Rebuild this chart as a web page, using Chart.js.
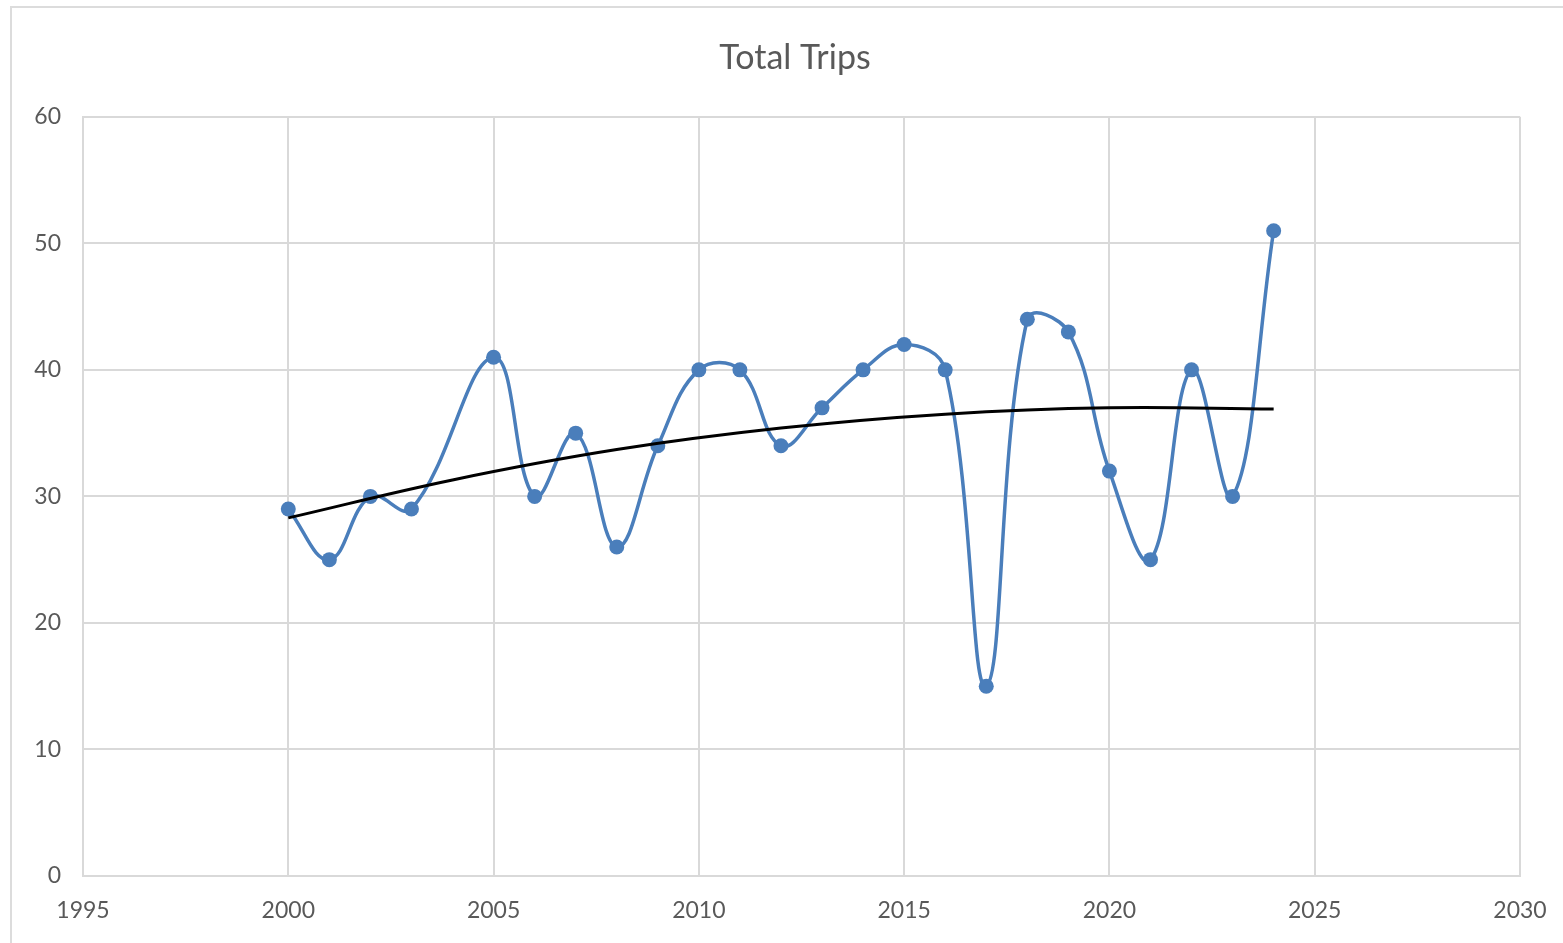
<!DOCTYPE html>
<html>
<head>
<meta charset="utf-8">
<script src="https://cdn.jsdelivr.net/npm/chart.js@4/dist/chart.umd.min.js"></script>
<style>
  html, body { margin: 0; padding: 0; background: #ffffff; }
  #wrap { position: absolute; left: 0; top: 0; width: 1563px; height: 943px; }
  #frame { position: absolute; left: 10px; top: 6px; width: 1560px; height: 940px; border-left: 2px solid #dcdcdc; border-top: 2px solid #dcdcdc; box-sizing: border-box; }
  canvas { position: absolute; left: 0; top: 0; }
</style>
</head>
<body>
<div id="wrap">
  <div id="frame"></div>
  <canvas id="c" width="1563" height="943"></canvas>
</div>
<script>
const years = [2000, 2001, 2002, 2003, 2005, 2006, 2007, 2008, 2009, 2010, 2011, 2012, 2013, 2014, 2015, 2016, 2017, 2018, 2019, 2020, 2021, 2022, 2023, 2024];
const trips = [29, 25, 30, 29, 41, 30, 35, 26, 34, 40, 40, 34, 37, 40, 42, 40, 15, 44, 43, 32, 25, 40, 30, 51];
const trendYears = [2000, 2004, 2008, 2012, 2016, 2020, 2024];
const trendValues = [28.3, 31.3, 33.7, 35.4, 36.5, 37.0, 36.9];
const xTicks = [1995, 2000, 2005, 2010, 2015, 2020, 2025, 2030];
const yTicks = [0, 10, 20, 30, 40, 50, 60];
const titleText = "Total Trips";

const FONT = "Lato, 'Open Sans', sans-serif";
const TXT = "#595959";

new Chart(document.getElementById('c'), {
  type: 'line',
  data: {
    datasets: [
      {
        label: 'Trips',
        data: years.map((y, i) => ({ x: y, y: trips[i] })),
        borderColor: '#4a7ebb',
        backgroundColor: '#4a7ebb',
        borderWidth: 3.5,
        pointRadius: 7.5,
        pointHoverRadius: 7.5,
        pointBorderWidth: 0,
        tension: 0.4,
        fill: false,
        order: 2
      },
      {
        label: 'Trend',
        data: trendYears.map((y, i) => ({ x: y, y: trendValues[i] })),
        borderColor: '#000000',
        borderWidth: 3,
        pointRadius: 0,
        tension: 0.4,
        fill: false,
        order: 1
      }
    ]
  },
  options: {
    responsive: false,
    animation: false,
    layout: { padding: { left: 27, right: 0, top: 0, bottom: 0 } },
    plugins: {
      legend: { display: false },
      tooltip: { enabled: false },
      title: {
        display: true,
        text: titleText,
        color: TXT,
        font: { family: FONT, size: 34, weight: 'normal' },
        padding: { top: 38, bottom: 38 }
      }
    },
    scales: {
      x: {
        type: 'linear',
        min: 1995,
        max: 2030,
        afterBuildTicks: (s) => { s.ticks = xTicks.map(v => ({ value: v })); },
        ticks: {
          color: TXT,
          font: { family: FONT, size: 23 },
          padding: 21,
          maxRotation: 0,
          callback: (v) => String(v)
        },
        grid: { color: '#d9d9d9', lineWidth: 2, drawTicks: false },
        border: { display: true, color: '#d9d9d9', width: 2 },
        afterFit: (s) => { s.height = 67; s.paddingLeft = 0; s.paddingRight = 0; }
      },
      y: {
        min: 0,
        max: 60,
        afterBuildTicks: (s) => { s.ticks = yTicks.map(v => ({ value: v })); },
        ticks: {
          color: TXT,
          font: { family: FONT, size: 23 },
          padding: 22
        },
        grid: { color: '#d9d9d9', lineWidth: 2, drawTicks: false },
        border: { display: true, color: '#d9d9d9', width: 2 },
        afterFit: (s) => { s.width = 56; }
      },
      yRight: {
        position: 'right',
        min: 0,
        max: 60,
        ticks: { display: false },
        grid: { display: false, drawTicks: false },
        border: { display: false },
        afterFit: (s) => { s.width = 43; }
      }
    }
  }
});
</script>
</body>
</html>
